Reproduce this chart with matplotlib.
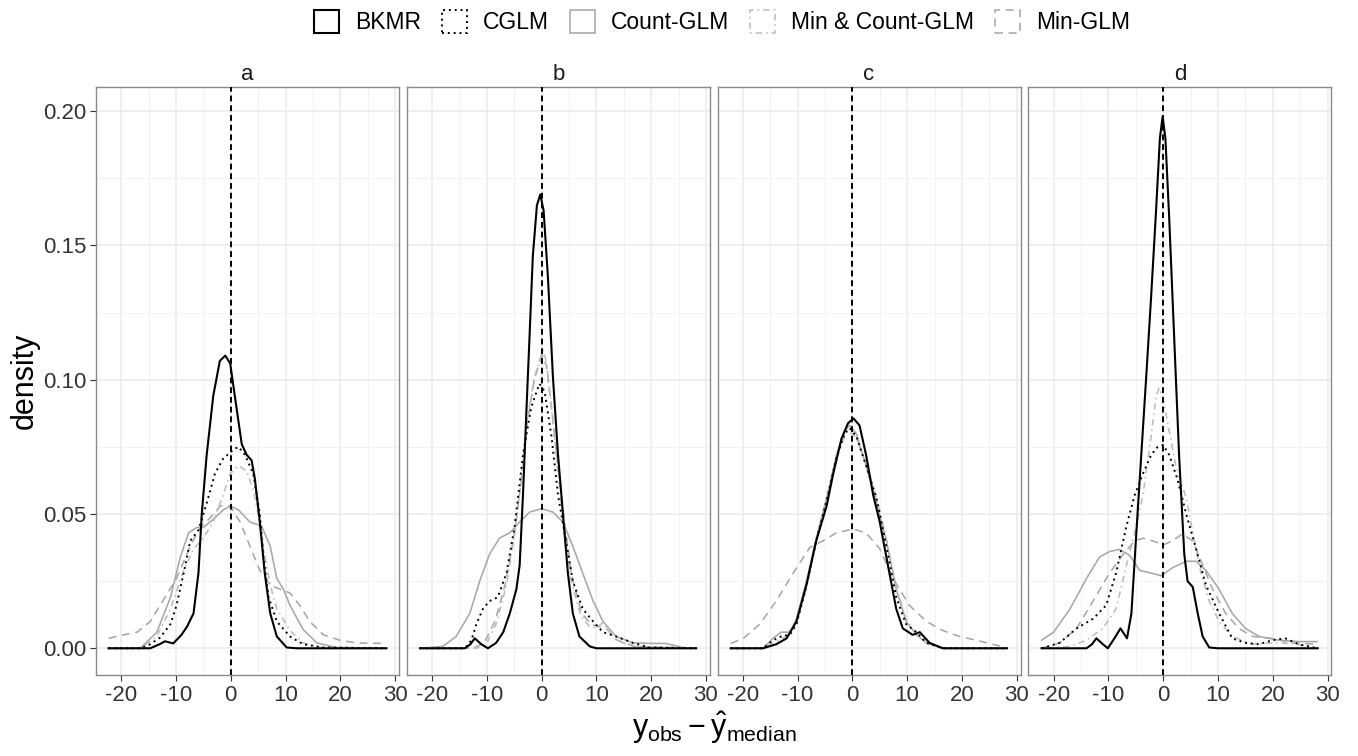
import matplotlib
matplotlib.use("Agg")
import matplotlib.pyplot as plt
from matplotlib.patches import Patch
from matplotlib.ticker import MultipleLocator

plt.rcParams['font.family'] = ['Liberation Sans', 'DejaVu Sans']
plt.rcParams['mathtext.fontset'] = 'custom'
plt.rcParams['mathtext.rm'] = 'Liberation Sans'
plt.rcParams['mathtext.it'] = 'Liberation Sans'
plt.rcParams['axes.unicode_minus'] = False

# data
panels = ['a', 'b', 'c', 'd']
methods = ['BKMR', 'CGLM', 'Count-GLM', 'Min & Count-GLM', 'Min-GLM']

# panel a
a_bkmr_x = [-22.3, -14.7, -13, -12, -10.5, -9, -8, -6.8, -5.9, -5.3, -4.4, -3.2, -2, -1, -0.1, 0.8, 2.0, 2.9, 3.8, 4.4, 5.3, 6.2, 7.2, 8.4, 10.2, 12, 28.4]
a_bkmr_y = [0, 0, 0.0015, 0.0026, 0.0018, 0.005, 0.008, 0.013, 0.028, 0.05, 0.072, 0.094, 0.107, 0.109, 0.106, 0.093, 0.076, 0.072, 0.07, 0.063, 0.047, 0.028, 0.013, 0.0044, 0.0003, 0, 0]
a_cglm_x = [-22.3, -16.5, -14.7, -12.9, -11, -9.9, -8.6, -7.4, -5.9, -4.4, -2.9, -1.4, 0.5, 1.4, 2.6, 4.1, 5.3, 5.9, 6.9, 8.4, 10.8, 13.2, 16.9, 28.4]
a_cglm_y = [0, 0, 0.0015, 0.004, 0.009, 0.016, 0.028, 0.04, 0.044, 0.054, 0.065, 0.0706, 0.074, 0.075, 0.072, 0.065, 0.05, 0.035, 0.019, 0.010, 0.0044, 0.0015, 0.0003, 0]
a_count_x = [-22.3, -16.5, -13.5, -11, -9.2, -7.7, -6.2, -5, -3.2, -1.4, -0.1, 1.4, 3.5, 5.6, 7.2, 8.4, 9.6, 10.8, 13.2, 15.7, 19.3, 28.4]
a_count_y = [0, 0, 0.006, 0.019, 0.034, 0.043, 0.045, 0.045, 0.048, 0.0515, 0.053, 0.0515, 0.047, 0.0456, 0.038, 0.026, 0.022, 0.016, 0.007, 0.002, 0.0003, 0]
a_mincount_x = [-22.3, -16.5, -13.5, -11, -8.6, -6.8, -5, -3.2, -1.4, -0.1, 1.4, 2.9, 4.1, 5.0, 5.9, 7.2, 8.4, 10.8, 13.2, 16.9, 28.4]
a_mincount_y = [0, 0, 0.0044, 0.0147, 0.029, 0.037, 0.041, 0.047, 0.057, 0.065, 0.068, 0.066, 0.059, 0.05, 0.038, 0.0235, 0.0147, 0.0066, 0.002, 0, 0]
a_min_x = [-22.3, -19.6, -17.1, -14.7, -12.3, -9.9, -7.4, -5.6, -3.8, -1.9, -0.1, 1.7, 3.5, 5.3, 7.2, 9.0, 10.8, 12.6, 14.4, 16.9, 19.9, 22.9, 28.4]
a_min_y = [0.0037, 0.005, 0.006, 0.010, 0.018, 0.026, 0.038, 0.045, 0.0485, 0.053, 0.053, 0.047, 0.038, 0.029, 0.0235, 0.022, 0.0206, 0.016, 0.010, 0.005, 0.003, 0.002, 0.0018]

# panel b
b_bkmr_x = [-22.2, -14, -13, -12.2, -11, -9.8, -8.3, -7.0, -5.8, -4.6, -4.0, -3.4, -2.8, -2.2, -1.6, -0.85, -0.24, 0.37, 1.16, 2.07, 3.0, 3.9, 4.8, 5.7, 6.9, 8.8, 10, 28.2]
b_bkmr_y = [0, 0, 0.0015, 0.0037, 0.0015, 0, 0.002, 0.006, 0.013, 0.022, 0.031, 0.057, 0.087, 0.116, 0.146, 0.165, 0.169, 0.163, 0.138, 0.101, 0.072, 0.05, 0.028, 0.013, 0.0044, 0.0007, 0, 0]
b_cglm_x = [-22.2, -14, -12.8, -11.9, -10.7, -9.5, -8.0, -6.4, -4.9, -3.4, -1.9, -0.4, 0.55, 1.8, 3.0, 4.2, 5.7, 7.5, 9.4, 11.2, 13.6, 16.7, 19.7, 28.2]
b_cglm_y = [0, 0, 0.003, 0.009, 0.0147, 0.0176, 0.019, 0.028, 0.0456, 0.072, 0.0897, 0.0985, 0.0956, 0.079, 0.057, 0.043, 0.025, 0.0147, 0.010, 0.006, 0.0044, 0.002, 0.0003, 0]
b_count_x = [-22.2, -18, -15.6, -13.1, -11.3, -9.5, -7.7, -5.8, -4.0, -2.2, 0, 2.07, 3.9, 5.7, 7.5, 9.4, 11.2, 13.6, 16.7, 20.3, 22.7, 25.8, 28.2]
b_count_y = [0, 0.0007, 0.0044, 0.013, 0.025, 0.035, 0.041, 0.043, 0.047, 0.0507, 0.052, 0.0507, 0.047, 0.038, 0.028, 0.0176, 0.010, 0.0044, 0.002, 0.0018, 0.0018, 0.0003, 0]
b_mincount_x = [-22.2, -11.9, -10.1, -8.3, -6.4, -4.9, -3.7, -2.5, -1.3, -0.4, 0.25, 0.85, 1.8, 3.0, 4.2, 5.4, 7.2, 8.8, 10, 11.2, 12.4, 13.6, 16.7, 28.2]
b_mincount_y = [0, 0, 0.0015, 0.009, 0.0235, 0.043, 0.063, 0.087, 0.101, 0.107, 0.111, 0.107, 0.0897, 0.065, 0.043, 0.025, 0.0118, 0.008, 0.0076, 0.0096, 0.006, 0.003, 0.0007, 0]
b_min_x = [-22.2, -12.5, -10.5, -8.5, -6.6, -5.0, -3.8, -2.6, -1.4, -0.5, 0.2, 0.9, 1.9, 3.1, 4.3, 5.5, 7.3, 9.0, 10.5, 12.0, 13.8, 17.0, 28.2]
b_min_y = [0, 0, 0.002, 0.010, 0.024, 0.042, 0.061, 0.084, 0.099, 0.106, 0.109, 0.105, 0.088, 0.066, 0.045, 0.027, 0.013, 0.009, 0.008, 0.007, 0.003, 0.0007, 0]

# panel c
c_bkmr_x = [-22.2, -16.3, -13.9, -12.0, -10.2, -8.4, -6.6, -4.7, -3.5, -2.0, -0.8, 0.2, 1.3, 2.5, 3.8, 5.0, 6.2, 8.0, 9.2, 11.0, 12.3, 14.1, 16.5, 28.2]
c_bkmr_y = [0, 0, 0.0015, 0.0037, 0.010, 0.0235, 0.040, 0.053, 0.065, 0.078, 0.0838, 0.0856, 0.083, 0.072, 0.057, 0.047, 0.034, 0.0147, 0.0074, 0.005, 0.006, 0.002, 0, 0]
c_cglm_x = [-22.2, -16.3, -14.5, -13, -11.4, -10.2, -8.4, -6.6, -4.7, -2.9, -1.4, -0.5, 0.7, 2.5, 4.4, 6.2, 8.0, 9.8, 11.7, 13.5, 16.5, 28.2]
c_cglm_y = [0, 0, 0.003, 0.0044, 0.005, 0.009, 0.023, 0.040, 0.055, 0.071, 0.080, 0.082, 0.079, 0.068, 0.056, 0.038, 0.019, 0.009, 0.006, 0.002, 0, 0]
c_count_x = [-22.2, -16.3, -14.5, -13, -11.4, -10.2, -8.4, -6.6, -4.7, -2.9, -1.4, -0.5, 0.7, 2.5, 4.4, 6.2, 8.0, 9.8, 11.7, 13.5, 16.5, 28.2]
c_count_y = [0, 0, 0.0037, 0.006, 0.006, 0.011, 0.025, 0.041, 0.056, 0.072, 0.081, 0.083, 0.080, 0.068, 0.054, 0.040, 0.022, 0.010, 0.005, 0.002, 0, 0]
c_mincount_x = [-22.2, -16.3, -14.5, -12.5, -10.5, -8.5, -6.6, -4.7, -2.9, -1.4, -0.8, 0.5, 2.5, 4.4, 6.2, 8.0, 9.8, 11.7, 13.5, 16.5, 28.2]
c_mincount_y = [0, 0, 0.002, 0.004, 0.009, 0.022, 0.040, 0.056, 0.071, 0.079, 0.081, 0.079, 0.069, 0.056, 0.041, 0.023, 0.011, 0.005, 0.002, 0, 0]
c_min_x = [-22.2, -19.9, -16.9, -13.9, -10.8, -7.8, -5.4, -2.9, 0.1, 2.5, 5.0, 7.4, 10.4, 13.5, 16.5, 19.6, 22.6, 25.6, 28.2]
c_min_y = [0.0018, 0.0037, 0.009, 0.0176, 0.028, 0.0375, 0.040, 0.043, 0.0444, 0.043, 0.037, 0.026, 0.016, 0.010, 0.0066, 0.0044, 0.003, 0.0015, 0.0003]

# panel d
d_bkmr_x = [-22.2, -14, -13, -12.2, -11, -10.1, -8.9, -7.8, -6.6, -5.8, -4.9, -4.0, -3.1, -2.2, -1.3, -0.6, -0.1, 0.4, 1.1, 2.0, 2.9, 3.85, 4.45, 5.4, 6.3, 7.2, 8.4, 10, 28.2]
d_bkmr_y = [0, 0, 0.0015, 0.0037, 0.0015, 0, 0.0037, 0.0074, 0.0037, 0.013, 0.043, 0.072, 0.101, 0.131, 0.163, 0.19, 0.198, 0.19, 0.16, 0.116, 0.072, 0.035, 0.025, 0.0228, 0.013, 0.0044, 0.0003, 0, 0]
d_cglm_x = [-22.2, -18.9, -15.8, -12.8, -10.4, -8.6, -6.7, -5.2, -3.7, -2.2, -1.0, 0, 1.1, 2.6, 4.2, 6.0, 7.8, 10.2, 12.6, 15.0, 17.5, 19.9, 22.3, 24.7, 28.1]
d_cglm_y = [0, 0.002, 0.0074, 0.011, 0.016, 0.028, 0.0456, 0.057, 0.065, 0.072, 0.075, 0.0757, 0.072, 0.063, 0.05, 0.037, 0.0235, 0.013, 0.0037, 0.002, 0.0015, 0.003, 0.0037, 0.0015, 0]
d_count_x = [-22.2, -20, -17, -14, -11.6, -9.8, -8.0, -6.1, -4.3, -2.2, -0.4, 1.7, 4.2, 6.0, 7.8, 10.2, 12.6, 15.0, 17.5, 21.1, 24.7, 28.1]
d_count_y = [0.003, 0.006, 0.0147, 0.026, 0.034, 0.036, 0.0368, 0.0346, 0.029, 0.028, 0.027, 0.030, 0.0324, 0.0324, 0.029, 0.022, 0.013, 0.0074, 0.0044, 0.003, 0.0025, 0.0025]
d_mincount_x = [-22.2, -17, -14, -11, -8.6, -6.7, -5.2, -3.7, -2.2, -1.3, -0.7, 0, 1.1, 2.3, 4.2, 5.4, 6.9, 8.4, 10.2, 12.6, 16.3, 19.9, 23.5, 28.1]
d_mincount_y = [0, 0.0007, 0.003, 0.0074, 0.0147, 0.031, 0.043, 0.057, 0.079, 0.094, 0.097, 0.0926, 0.081, 0.068, 0.056, 0.043, 0.028, 0.0176, 0.010, 0.0044, 0.0015, 0.002, 0.0018, 0]
d_min_x = [-22.2, -18.9, -15.8, -12.8, -9.8, -7.3, -5.2, -3.7, -1.9, 0, 1.7, 3.5, 5.4, 7.2, 9.0, 11.4, 13.8, 16.3, 19.9, 23.5, 28.1]
d_min_y = [0, 0.002, 0.0074, 0.0176, 0.028, 0.035, 0.040, 0.041, 0.040, 0.0385, 0.040, 0.0426, 0.040, 0.031, 0.022, 0.013, 0.0074, 0.0044, 0.0037, 0.002, 0.0015]

curves = {
    'a': [(a_bkmr_x, a_bkmr_y), (a_cglm_x, a_cglm_y), (a_count_x, a_count_y), (a_mincount_x, a_mincount_y), (a_min_x, a_min_y)],
    'b': [(b_bkmr_x, b_bkmr_y), (b_cglm_x, b_cglm_y), (b_count_x, b_count_y), (b_mincount_x, b_mincount_y), (b_min_x, b_min_y)],
    'c': [(c_bkmr_x, c_bkmr_y), (c_cglm_x, c_cglm_y), (c_count_x, c_count_y), (c_mincount_x, c_mincount_y), (c_min_x, c_min_y)],
    'd': [(d_bkmr_x, d_bkmr_y), (d_cglm_x, d_cglm_y), (d_count_x, d_count_y), (d_mincount_x, d_mincount_y), (d_min_x, d_min_y)],
}

# line styles per method
colors = ['black', 'black', '#a8a8a8', '#bcbcbc', '#a8a8a8']
styles = ['-', (0, (1, 2)), '-', (0, (1, 2.5, 4, 2.5)), (0, (5, 3.5))]
widths = [1.5, 1.4, 1.15, 1.15, 1.15]
zorders = [6, 5, 3, 4, 2]

W, H = 1358, 756
fig = plt.figure(figsize=(W / 100, H / 100), dpi=100)

left0, pw, gap = 96, 303, 7.8
top, bottom = 87, 675

for i, p in enumerate(panels):
    x0 = left0 + i * (pw + gap)
    ax = fig.add_axes([x0 / W, 1 - bottom / H, pw / W, (bottom - top) / H])
    for j, (xs, ys) in enumerate(curves[p]):
        ax.plot(xs, ys, color=colors[j], linestyle=styles[j], linewidth=widths[j],
                zorder=zorders[j], solid_joinstyle='round')
    ax.axvline(0, color='black', linestyle=(0, (3, 2)), linewidth=1.4, zorder=7)

    ax.set_xlim(-24.6, 30.7)
    ax.set_ylim(-0.00995, 0.209)
    ax.xaxis.set_major_locator(MultipleLocator(10))
    ax.xaxis.set_minor_locator(MultipleLocator(5))
    ax.yaxis.set_major_locator(MultipleLocator(0.05))
    ax.yaxis.set_minor_locator(MultipleLocator(0.025))
    ax.grid(True, which='major', color='#ebebeb', linewidth=1.1, zorder=0)
    ax.grid(True, which='minor', color='#f2f2f2', linewidth=0.7, zorder=0)
    ax.set_axisbelow(True)
    for s in ax.spines.values():
        s.set_color('#8a8a8a')
        s.set_linewidth(1.0)
    ax.tick_params(which='minor', length=0)
    ax.tick_params(which='major', length=4, width=0.8, color='#333333',
                   labelsize=16, labelcolor='#333333', pad=3)
    if i == 0:
        ax.yaxis.set_major_formatter(plt.FuncFormatter(lambda v, pos: f'{v:.2f}'))
    else:
        ax.tick_params(axis='y', left=False, labelleft=False)
    ax.set_title(p, fontsize=16, pad=5, color='#1a1a1a')

fig.text(25 / W, 1 - 381 / H, 'density', rotation=90, fontsize=22,
         ha='center', va='center')
fig.text(714 / W, 1 - 728 / H, r'$y_{obs} - \hat{y}_{median}$', fontsize=22,
         ha='center', va='center')

handles = [Patch(facecolor='white', edgecolor=colors[j], linestyle=styles[j],
                 linewidth=widths[j]) for j in range(len(methods))]
fig.legend(handles, methods, loc='center', bbox_to_anchor=(722 / W, 1 - 22 / H),
           ncol=5, frameon=False, fontsize=16.5, handlelength=1.1, handleheight=1.2,
           handletextpad=0.7, columnspacing=0.9)

fig.savefig('out.png', dpi=100)
